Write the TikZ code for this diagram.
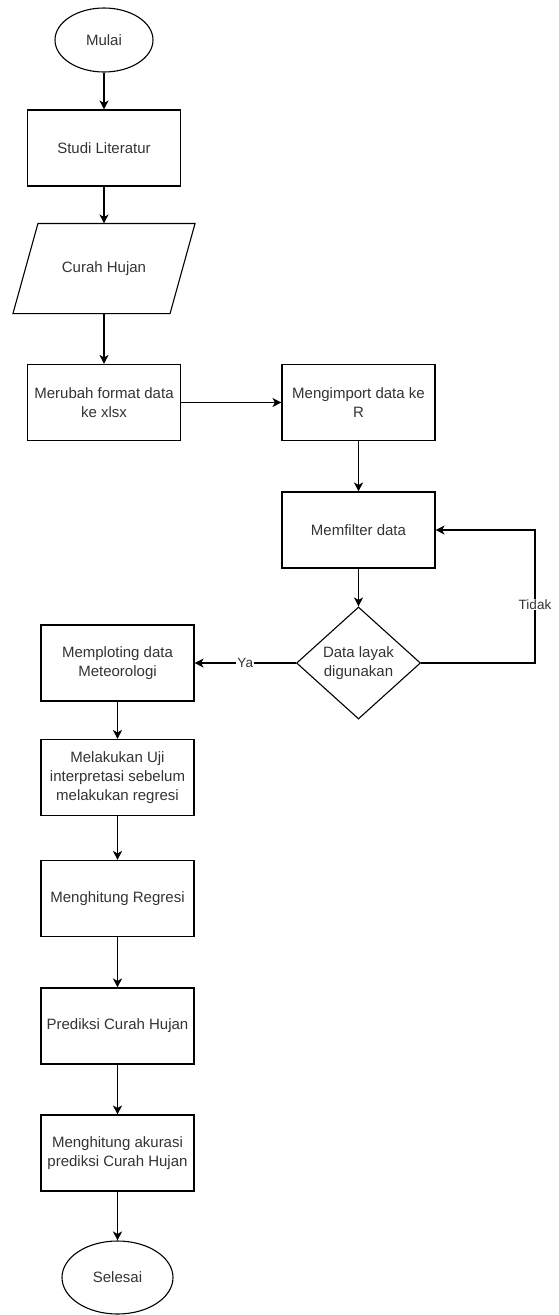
\documentclass[tikz,border=0pt]{standalone}
\usepackage{fontspec}
\setmainfont{Liberation Sans}
\usetikzlibrary{shapes.geometric,arrows.meta}

\definecolor{teks}{HTML}{333333}

\tikzset{
  proses/.style={draw, rectangle, minimum width=153pt, minimum height=76pt,
    inner sep=2pt, align=center, text=teks, font=\fontsize{15}{19}\selectfont},
  terminal/.style={draw, ellipse, inner sep=0pt, text=teks,
    font=\fontsize{15}{19}\selectfont},
  keputusan/.style={draw, diamond, minimum width=124pt, minimum height=112pt,
    inner sep=0pt, align=center, text=teks, font=\fontsize{15}{19}\selectfont},
  ket/.style={fill=white, inner sep=1pt, text=teks,
    font=\fontsize{13.5}{16}\selectfont},
  panah/.style={->, line width=1.1pt}
}

\begin{document}
\begin{tikzpicture}[x=1pt, y=-1pt, line width=1.1pt,
    >={Stealth[length=9pt, width=9pt, inset=2.5pt]}]
  \useasboundingbox (0,0) rectangle (558,1315);

  % --- Left column: start to input ---
  \node[terminal, minimum width=98pt, minimum height=64pt] (mulai) at (104,40) {Mulai};
  \node[proses] (studi) at (104,148) {Studi Literatur};
  % input data: parallelogram drawn round an empty node
  \node[minimum width=156pt, minimum height=89pt, inner sep=0pt, text=teks,
        font=\fontsize{15}{19}\selectfont] (curah) at (104,268.5) {Curah Hujan};
  \draw ([xshift=12.5pt]curah.north west) -- ([xshift=12.5pt]curah.north east)
     -- ([xshift=-12.5pt]curah.south east) -- ([xshift=-12.5pt]curah.south west)
     -- cycle;
  \node[proses] (merubah) at (104,402.5) {Merubah format data\\ke xlsx};

  % --- Right column: import and filter ---
  \node[proses] (impor) at (358.5,402.5) {Mengimport data ke\\R};
  \node[proses] (filter) at (358.5,530) {Memfilter data};
  \node[keputusan] (layak) at (358.5,663) {Data layak\\digunakan};
  \coordinate (balik) at (535,663);

  % --- Left column: processing to end ---
  \node[proses] (plot) at (117.5,663) {Memploting data\\Meteorologi};
  \node[proses] (uji) at (117.5,777.5) {Melakukan Uji\\interpretasi sebelum\\melakukan regresi};
  \node[proses] (regresi) at (117.5,898.5) {Menghitung Regresi};
  \node[proses] (prediksi) at (117.5,1026) {Prediksi Curah Hujan};
  \node[proses] (akurasi) at (117.5,1153) {Menghitung akurasi\\prediksi Curah Hujan};
  \node[terminal, minimum width=111pt, minimum height=73pt] (selesai) at (117.5,1277.5) {Selesai};

  % --- Connectors ---
  \draw[panah] (mulai) -- (studi);
  \draw[panah] (studi) -- (curah);
  \draw[panah] (curah) -- (merubah);
  \draw[panah] (merubah) -- (impor);
  \draw[panah] (impor) -- (filter);
  \draw[panah] (filter) -- (layak);
  \draw[panah] (layak.east) -- (balik) |- node[ket, pos=0.22] {Tidak} (filter.east);
  \draw[panah] (layak.west) -- node[ket] {Ya} (plot.east);
  \draw[panah] (plot) -- (uji);
  \draw[panah] (uji) -- (regresi);
  \draw[panah] (regresi) -- (prediksi);
  \draw[panah] (prediksi) -- (akurasi);
  \draw[panah] (akurasi) -- (selesai);
\end{tikzpicture}
\end{document}
